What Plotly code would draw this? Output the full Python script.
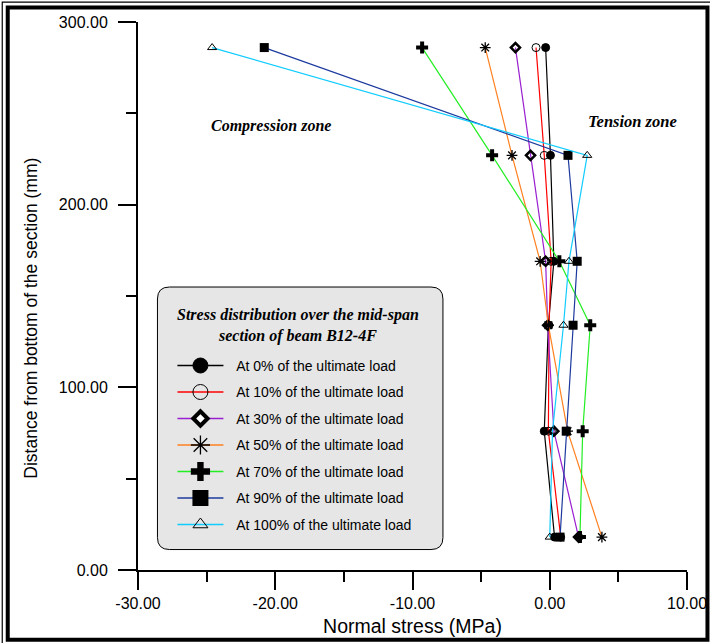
import plotly.graph_objects as go

# ---------------- data ----------------
depth_mm = [286, 227, 169, 134, 76, 18]
stress_0 = [-0.3, 0.05, 0.3, -0.1, -0.4, 0.35]
stress_10 = [-1.0, -0.4, 0.1, -0.05, -0.1, 0.8]
stress_30 = [-2.5, -1.4, -0.3, -0.15, 0.3, 2.1]
stress_50 = [-4.7, -2.75, -0.7, -0.1, 1.3, 3.8]
stress_70 = [-9.3, -4.2, 0.7, 2.95, 2.4, 2.2]
stress_90 = [-20.8, 1.33, 2.0, 1.7, 1.2, 0.75]
stress_100 = [-24.6, 2.73, 1.4, 1.0, 0.2, 0.0]

series_names = [
    "At 0% of the ultimate load",
    "At 10% of the ultimate load",
    "At 30% of the ultimate load",
    "At 50% of the ultimate load",
    "At 70% of the ultimate load",
    "At 90% of the ultimate load",
    "At 100% of the ultimate load",
]
series_values = [stress_0, stress_10, stress_30, stress_50, stress_70, stress_90, stress_100]
line_colors = ["#000000", "#ff0000", "#9a1fd0", "#ff8020", "#22ee22", "#1c3a9e", "#11ccff"]
symbols = ["circle", "circle-open", "diamond-open", "asterisk-open", "cross", "square", "triangle-up-open"]
mk_sizes = [8, 8, 7, 9, 10, 9, 8]
mk_line = [1, 1, 2.5, 1.3, 0, 0, 1]
lg_symbols = ["circle", "circle-open", "diamond", "asterisk-open", "cross", "square", "triangle-up-open"]
lg_colors = ["#000000", "#000000", "#ffffff", "#000000", "#000000", "#000000", "#000000"]
lg_sizes = [15, 15, 11, 16, 16, 16, 13]
lg_line = [1, 1, 4, 1.3, 0, 0, 1]

x_ticks = [-30, -20, -10, 0, 10]
x_ticklabels = ["-30.00", "-20.00", "-10.00", "0.00", "10.00"]
y_ticks = [0, 100, 200, 300]
y_ticklabels = ["0.00", "100.00", "200.00", "300.00"]

# ---------------- layout geometry ----------------
W, H = 710, 643
L, R, T, B = 137.5, 22.5, 21.5, 72.5
PW, PH = W - L - R, H - T - B


def px2x(px):
    return (px - L) / PW


def px2y(py):
    return (H - B - py) / PH


fig = go.Figure()

for name, vals, col, sym, ms, ml in zip(series_names, series_values, line_colors, symbols, mk_sizes, mk_line):
    fig.add_trace(go.Scatter(
        x=vals, y=depth_mm, mode="lines+markers", name=name, showlegend=False,
        line=dict(color=col, width=1.2),
        marker=dict(symbol=sym, size=ms, color="#000000",
                    line=dict(color="#000000", width=ml)),
    ))

# legend entries (bigger symbols, as in the original legend)
for i, (name, col, sym, fc, ms, ml) in enumerate(zip(series_names, line_colors, lg_symbols, lg_colors, lg_sizes, lg_line)):
    fig.add_trace(go.Scatter(
        x=[None], y=[None], mode="lines+markers", name="\u00a0\u00a0" + name, legendgroup=f"g{i}",
        line=dict(color=col, width=1.5),
        marker=dict(symbol=sym, size=ms, color=fc, line=dict(color="#000000", width=ml)),
    ))

# legend box (rounded)
x0, x1, y0, y1, r = px2x(157), px2x(443), px2y(287), px2y(550), 12
rx, ry = r / PW, r / PH
path = (f"M {x0+rx},{y0} L {x1-rx},{y0} Q {x1},{y0} {x1},{y0-ry} "
        f"L {x1},{y1+ry} Q {x1},{y1} {x1-rx},{y1} L {x0+rx},{y1} Q {x0},{y1} {x0},{y1+ry} "
        f"L {x0},{y0-ry} Q {x0},{y0} {x0+rx},{y0} Z")
shapes = [dict(type="path", xref="paper", yref="paper", path=path,
               fillcolor="#e6e6e6", line=dict(color="#000000", width=1), layer="below")]

# page frame (double border)
shapes.append(dict(type="rect", xref="paper", yref="paper",
                   x0=px2x(1.5), x1=px2x(712), y0=px2y(1.5), y1=px2y(646),
                   line=dict(color="#000000", width=1.2), layer="above"))
shapes.append(dict(type="rect", xref="paper", yref="paper",
                   x0=px2x(7), x1=px2x(708), y0=px2y(7), y1=px2y(640.5),
                   line=dict(color="#000000", width=4), layer="above"))

serif = "Liberation Serif, Times New Roman, serif"
sans = "Liberation Sans, Arial, sans-serif"

annotations = [
    dict(text="<b><i>Stress distribution over the mid-span<br>section of beam B12-4F</i></b>",
         xref="paper", yref="paper", x=px2x(298), y=px2y(326), xanchor="center", yanchor="middle",
         showarrow=False, font=dict(family=serif, size=16, color="#000000")),
    dict(text="<b><i>Compression zone</i></b>", xref="paper", yref="paper",
         x=px2x(271), y=px2y(126), xanchor="center", yanchor="middle",
         showarrow=False, font=dict(family=serif, size=16, color="#000000")),
    dict(text="<b><i>Tension zone</i></b>", xref="paper", yref="paper",
         x=px2x(633), y=px2y(121), xanchor="center", yanchor="middle",
         showarrow=False, font=dict(family=serif, size=16.5, color="#000000")),
    dict(text="Distance from bottom of the section (mm)", textangle=-90,
         xref="paper", yref="paper", x=px2x(30), y=px2y(318), xanchor="center", yanchor="middle",
         showarrow=False, font=dict(family=sans, size=17.5, color="#000000")),
]

axis_common = dict(showline=True, linecolor="#000000", linewidth=2, ticks="outside",
                   ticklen=18, tickwidth=2, tickcolor="#000000", showgrid=False, zeroline=False,
                   tickfont=dict(family=sans, size=16, color="#000000"))

fig.update_layout(
    width=W, height=H,
    margin=dict(l=L, r=R, t=T, b=B, autoexpand=False),
    paper_bgcolor="#ffffff", plot_bgcolor="#ffffff",
    xaxis=dict(range=[-30, 10], tickvals=x_ticks, ticktext=x_ticklabels,
               minor=dict(dtick=5, tick0=0, ticks="outside", ticklen=10, tickwidth=2, tickcolor="#000000"),
               title=dict(text="Normal stress (MPa)", font=dict(family=sans, size=19.5, color="#000000"), standoff=8),
               **axis_common),
    yaxis=dict(range=[0, 300], tickvals=y_ticks, ticktext=y_ticklabels, ticklabelstandoff=7,
               minor=dict(dtick=50, tick0=0, ticks="outside", ticklen=10, tickwidth=2, tickcolor="#000000"),
               **axis_common),
    legend=dict(x=px2x(172), y=px2y(350), xanchor="left", yanchor="top",
                bgcolor="rgba(0,0,0,0)", borderwidth=0, tracegroupgap=5.3, itemwidth=46,
                font=dict(family=sans, size=14, color="#000000"), itemsizing="trace"),
    shapes=shapes,
    annotations=annotations,
    showlegend=True,
)

fig.write_html("out.html")
